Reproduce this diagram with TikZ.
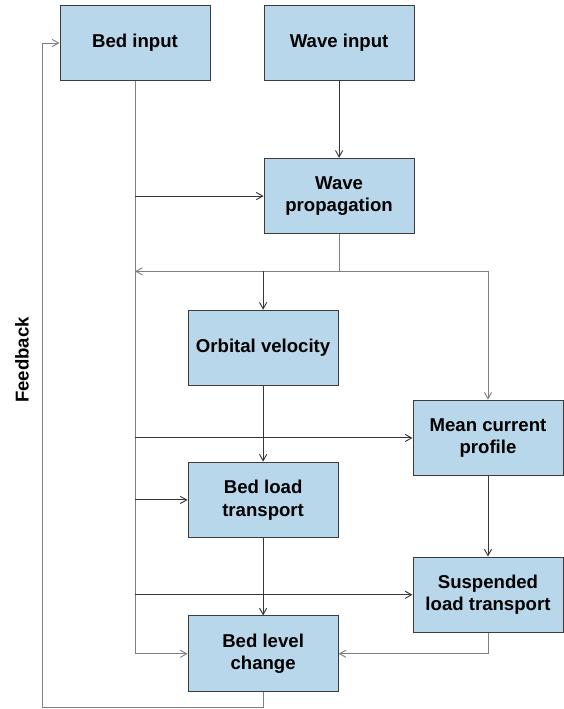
\documentclass[tikz,border=0pt]{standalone}
\usepackage{fontspec}
\setmainfont{Liberation Sans}
\usepackage{tikz}
\usetikzlibrary{arrows.meta,calc}
\definecolor{boxblue}{RGB}{185,215,234}
\definecolor{boxline}{RGB}{60,60,60}
\definecolor{darkline}{RGB}{55,55,55}
\definecolor{greyline}{RGB}{128,128,128}
\tikzstyle{process} = [rectangle, minimum width=3.97cm, minimum height=2cm, align=center,
text centered, draw=boxline, line width=0.7pt, fill=boxblue, font=\fontsize{14}{17}\selectfont\bfseries]
\tikzstyle{sidetext} = [font=\fontsize{14}{17}\selectfont\bfseries]
\tikzstyle{flowArrow} = [line width=0.7pt, darkline, -{Straight Barb[length=1.7mm,width=1.9mm]}]
\tikzstyle{greyArrow} = [flowArrow, greyline]

\begin{document}
\begin{tikzpicture}[node distance=4.05cm]
		\useasboundingbox (-3.572,1.138) rectangle (11.351,-17.622);
		%blocks
		\node[process](bedin){Bed input};
		\node[process, right of=bedin, node distance=5.40cm](wavein){Wave input};
		\node[process, below of=wavein](waveprop){Wave\\propagation};
		\node[process, below of=waveprop, node distance=4.02cm, xshift=-2.01cm](orbital){Orbital velocity};
		\node[process, below of=orbital, node distance=2.38cm, xshift=5.95cm](meancur){Mean current\\profile};
		\node[process, below of=orbital, node distance=4.02cm](bedload){Bed load\\transport};
		\node[process, below of=meancur, node distance=4.15cm](susp){Suspended\\load transport};
		\node[process, below of=bedload, node distance=4.07cm](bedlevel){Bed level\\change};
		\node[sidetext, rotate=90](fblabel) at ($(bedin)+(-2.99,-8.39)$){Feedback};

		%helper points
		\coordinate (split) at ($(waveprop.south)+(0,-0.98)$);
		\coordinate (fbcorner) at ($(bedlevel.south)+(0,-0.40)$);
		\coordinate (fbleft) at ($(bedin.center)+(-2.46,0)$);

		%arrows
		\draw[greyArrow](bedin.south) |- (bedlevel.west);
		\draw[flowArrow](bedin.south |- waveprop.west)--(waveprop.west);
		\draw[flowArrow](wavein)--(waveprop);
		\draw[greyArrow](waveprop.south) |- (split -| bedin.south);
		\draw[flowArrow](split -| orbital.north)--(orbital);
		\draw[greyArrow](split) -| (meancur.north);
		\draw[flowArrow](orbital)--(bedload);
		\draw[flowArrow](bedin.south |- meancur.west)--(meancur.west);
		\draw[flowArrow](bedin.south |- bedload.west)--(bedload.west);
		\draw[flowArrow](bedload)--(bedlevel);
		\draw[flowArrow](meancur)--(susp);
		\draw[flowArrow](bedin.south |- susp.west)--(susp.west);
		\draw[greyArrow](susp.south) |- (bedlevel.east);
		\draw[greyArrow](bedlevel.south)--(fbcorner) -| (fbleft)--(bedin.west);
	\end{tikzpicture}
\end{document}
